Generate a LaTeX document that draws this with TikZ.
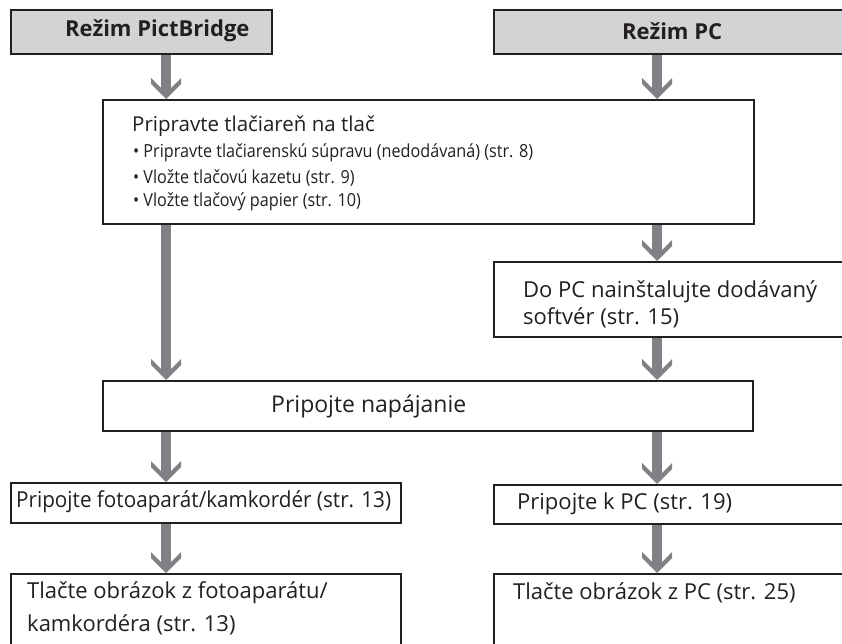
\documentclass[tikz,border=0pt]{standalone}
\usepackage{fontspec}
\setmainfont{Open Sans}
\definecolor{headgray}{HTML}{D2D3D5}
\definecolor{arrgray}{HTML}{808184}
\definecolor{ink}{HTML}{231F20}
\newcommand\flowarr[2]{%
  \draw[stem, shorten >=6pt] (#1) -- (#2);
  \fill[arrgray] (#2) -- ++(-15,-15) -- ++(0,-6) -- ++(15,15) -- ++(15,-15) -- ++(0,6) -- cycle;}
\newcommand\narrow[1]{\scalebox{0.9}[1]{#1}}
\begin{document}
\begin{tikzpicture}[x=1pt,y=-1pt,
  box/.style={draw=ink, line width=1.8pt, fill=white, rectangle, inner sep=0pt, anchor=north west},
  headbox/.style={box, fill=headgray},
  txt/.style={anchor=west, inner sep=0pt, text=ink},
  big/.style={txt, font=\fontsize{22}{26}\selectfont},
  mid/.style={txt, font=\fontsize{20.5}{24}\selectfont},
  small/.style={txt, font=\fontsize{18}{21}\selectfont},
  stem/.style={draw=arrgray, line width=10pt}]
\useasboundingbox (0,0) rectangle (842,644);
\clip (0,0) rectangle (842,644);
\coordinate (colL) at (166,0);
\coordinate (colR) at (657,0);
% boxes
\node[headbox, minimum width=261, minimum height=44] (hL) at (10,9) {};
\node[headbox, minimum width=390, minimum height=44] (hR) at (493,9) {};
\node[box, minimum width=651, minimum height=124] (main) at (102,99) {};
\node[box, minimum width=390, minimum height=75] (pc) at (493,261) {};
\node[box, minimum width=650, minimum height=50] (nap) at (102,380) {};
\node[box, minimum width=390, minimum height=40] (foto) at (10,482) {};
\node[box, minimum width=390, minimum height=39] (kpc) at (493,484) {};
\node[box, minimum width=390, minimum height=120] (tlL) at (10,573) {};
\node[box, minimum width=390, minimum height=120] (tlR) at (493,573) {};
% texts
\node[txt, font=\fontsize{22}{26}\selectfont\bfseries] (hLt) at (65,31) {Režim PictBridge};
\node[txt, font=\fontsize{22}{26}\selectfont\bfseries] (hRt) at (622,31) {Režim PC};
\node[mid] (m1) at (132,126) {Pripravte tlačiareň na tlač};
\node[small] (m2) at (133,153) {\narrow{• Pripravte tlačiarenskú súpravu (nedodávaná) (str. 8)}};
\node[small] (m3) at (133,178) {\narrow{• Vložte tlačovú kazetu (str. 9)}};
\node[small] (m4) at (133,202) {\narrow{• Vložte tlačový papier (str. 10)}};
\node[big] (pc1) at (523,292) {Do PC nainštalujte dodávaný};
\node[big] (pc2) at (523,318) {softvér (str. 15)};
\node[txt, font=\fontsize{23}{27}\selectfont] (napt) at (271,406) {Pripojte napájanie};
\node[big] (fotot) at (16,502) {\scalebox{0.94}[1]{Pripojte fotoaparát/kamkordér (str. 13)}};
\node[big] (kpct) at (517,504) {Pripojte k PC (str. 19)};
\node[big] (tlL1) at (27,593) {Tlačte obrázok z fotoaparátu/};
\node[big] (tlL2) at (27,625) {kamkordéra (str. 13)};
\node[big] (tlR1) at (513,593) {Tlačte obrázok z PC (str. 25)};
% connectors
\flowarr{hL.south -| colL}{main.north -| colL}
\flowarr{hR.south -| colR}{main.north -| colR}
\flowarr{main.south -| colR}{pc.north -| colR}
\flowarr{main.south -| colL}{nap.north -| colL}
\flowarr{pc.south -| colR}{nap.north -| colR}
\flowarr{nap.south -| colL}{foto.north -| colL}
\flowarr{nap.south -| colR}{kpc.north -| colR}
\flowarr{foto.south -| colL}{tlL.north -| colL}
\flowarr{kpc.south -| colR}{tlR.north -| colR}
\end{tikzpicture}
\end{document}
